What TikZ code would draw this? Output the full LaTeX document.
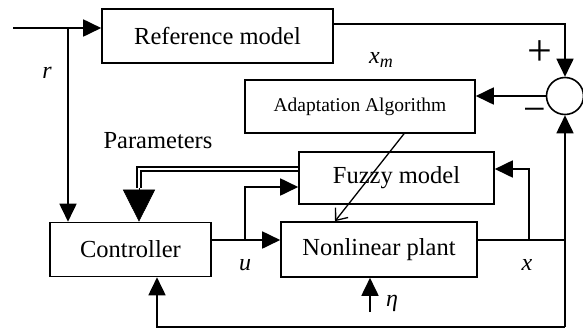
\documentclass[tikz,border=0pt]{standalone}
\usepackage{fontspec}
\setmainfont{Liberation Serif}
\usetikzlibrary{arrows.meta,calc}
\begin{document}
\begin{tikzpicture}[x=1pt,y=-1pt,
  blk/.style={draw, line width=1.6pt, inner sep=0pt, font=\fontsize{24.5}{26}\selectfont},
  wire/.style={line width=1.8pt},
  arr/.style={wire, -{Triangle[length=18pt,width=17pt]}},
  lbl/.style={inner sep=0pt, font=\fontsize{24}{26}\selectfont\itshape},
]
\useasboundingbox (0,0) rectangle (583,330);

% blocks
\node[blk, minimum width=231pt, minimum height=54pt] (ref) at (217.5,36) {Reference model};
\node[blk, minimum width=230pt, minimum height=53pt, font=\fontsize{19.5}{21}\selectfont] (adapt) at (360,106.5) {Adaptation Algorithm};
\node[blk, minimum width=195pt, minimum height=52pt] (fuzzy) at (396.5,178) {Fuzzy model};
\node[blk, minimum width=161pt, minimum height=54pt] (ctrl) at (130.5,249.5) {Controller};
\node[blk, minimum width=196pt, minimum height=55pt] (plant) at (379,249.5) {Nonlinear plant};
\node[draw, circle, line width=1.6pt, minimum size=37pt, inner sep=0pt] (sum) at (565,96) {};

% branch points
\coordinate (in) at (13,28);
\coordinate (rb) at (68,28);
\coordinate (ub) at (245,240);
\coordinate (xb) at (529,240);
\coordinate (fb) at (565,240);
\coordinate (bl) at (565,327);
\coordinate (pa) at (139,188);
\coordinate (eta) at (370,312);

% reference path
\draw[arr] (in) -- (in -| ref.west);
\draw[arr] (rb) -- (rb |- ctrl.north);
\draw[arr] ($(ref.east)+(0,-12)$) -| (sum.north);
\draw[arr] (sum.west) -- (sum.west -| adapt.east);

% control signal
\draw[arr] (ctrl.east |- ub) -- (plant.west |- ub);
\draw[arr] (ub) |- ($(fuzzy.west)+(0,9)$);

% plant output and feedback
\draw[wire] (plant.east |- xb) -- (fb);
\draw[arr] (xb) |- ($(fuzzy.east)+(0,-9)$);
\draw[arr] (bl) -- (sum.south);
\draw[arr] (bl) -| ($(ctrl.south)+(26.5,0)$);

% parameters to controller
\draw[line width=1.4pt, double, double distance=2.6pt] ($(fuzzy.west)+(0,-9)$) -| (pa);
\draw[line width=0.5pt, -{Triangle[length=32pt,width=32pt]}] (pa) -- (ctrl.north -| pa);

% adaptation acting on the plant
\draw[line width=1.3pt, -{Straight Barb[length=10pt,width=16pt]}] ($(adapt.south)+(44,0)$) -- ($(plant.north)+(-44,0)$);

% disturbance
\draw[arr] (eta) -- (eta |- plant.south);

% labels
\node[lbl] (lr) at (47,73) {r};
\node[lbl] (lxm) at (381,60) {x\raisebox{-4pt}{\fontsize{18}{18}\selectfont m}};
\node[lbl] (lu) at (245,265) {u};
\node[lbl] (lx) at (527,265) {x};
\node[lbl] (leta) at (392,303) {η};
\node[inner sep=0pt, font=\fontsize{24.5}{26}\selectfont] (lpar) at (158,141) {Parameters};
\node[inner sep=0pt, font=\fontsize{44}{44}\selectfont] (lplus) at (540,53) {+};
\node[inner sep=0pt, font=\fontsize{40}{40}\selectfont] (lminus) at (535,115) {−};
\end{tikzpicture}
\end{document}
